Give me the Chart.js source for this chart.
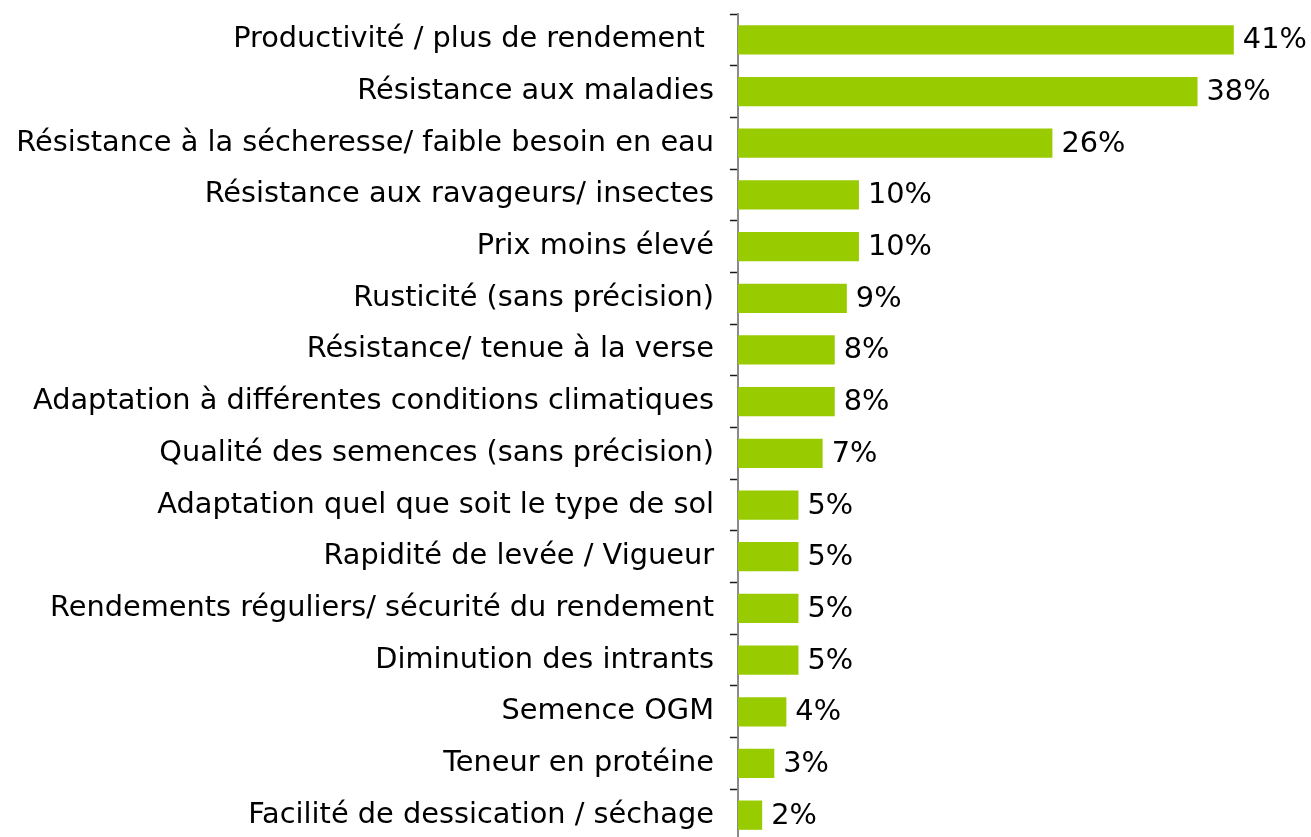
<!DOCTYPE html>
<html>
<head>
<meta charset="utf-8">
<script src="https://cdn.jsdelivr.net/npm/chart.js@4"></script>
<style>
html,body{margin:0;padding:0;background:#fff;overflow:hidden;}
#wrap{width:1311px;height:845px;}
</style>
</head>
<body>
<div id="wrap"><canvas id="c" width="1311" height="845"></canvas></div>
<script>
const categories = [
  "Productivité / plus de rendement ",
  "Résistance aux maladies",
  "Résistance à la sécheresse/ faible besoin en eau",
  "Résistance aux ravageurs/ insectes",
  "Prix moins élevé",
  "Rusticité (sans précision)",
  "Résistance/ tenue à la verse",
  "Adaptation à différentes conditions climatiques",
  "Qualité des semences (sans précision)",
  "Adaptation quel que soit le type de sol",
  "Rapidité de levée / Vigueur",
  "Rendements réguliers/ sécurité du rendement",
  "Diminution des intrants",
  "Semence OGM",
  "Teneur en protéine",
  "Facilité de dessication / séchage"
];
const values = [41, 38, 26, 10, 10, 9, 8, 8, 7, 5, 5, 5, 5, 4, 3, 2];
const valueLabels = values.map(v => v + "%");

const FONT = "'DejaVu Sans', Verdana, sans-serif";
const FSIZE = 28.8;

const valueLabelPlugin = {
  id: 'valueLabels',
  afterDatasetsDraw(chart) {
    const ctx = chart.ctx;
    const meta = chart.getDatasetMeta(0);
    ctx.save();
    ctx.font = FSIZE + "px " + FONT;
    ctx.fillStyle = "#000";
    ctx.textAlign = "left";
    ctx.textBaseline = "middle";
    meta.data.forEach((bar, i) => {
      ctx.fillText(valueLabels[i], bar.x + 9, bar.y + 1);
    });
    ctx.restore();
  }
};

new Chart(document.getElementById('c'), {
  type: 'bar',
  data: {
    labels: categories,
    datasets: [{
      data: values,
      backgroundColor: '#99CC00',
      borderWidth: 0,
      barPercentage: 0.567,
      categoryPercentage: 1.0
    }]
  },
  options: {
    indexAxis: 'y',
    responsive: false,
    animation: false,
    layout: { padding: { top: 14, right: 53, bottom: 4, left: 0 } },
    plugins: { legend: { display: false }, tooltip: { enabled: false } },
    scales: {
      x: {
        display: false,
        min: 0,
        max: 43
      },
      y: {
        offset: true,
        afterFit(s) { s.width = 738; s.paddingTop = 0; s.paddingBottom = 0; },
        border: { display: true, color: '#8a8a8a', width: 2 },
        grid: {
          display: true,
          drawOnChartArea: false,
          drawTicks: true,
          tickLength: 8,
          tickColor: '#1a1a1a',
          tickWidth: 1.5,
          color: '#1a1a1a',
          offset: true
        },
        ticks: {
          color: '#000',
          font: { size: FSIZE, family: FONT },
          padding: 16,
          autoSkip: false
        }
      }
    }
  },
  plugins: [valueLabelPlugin]
});
</script>
</body>
</html>
